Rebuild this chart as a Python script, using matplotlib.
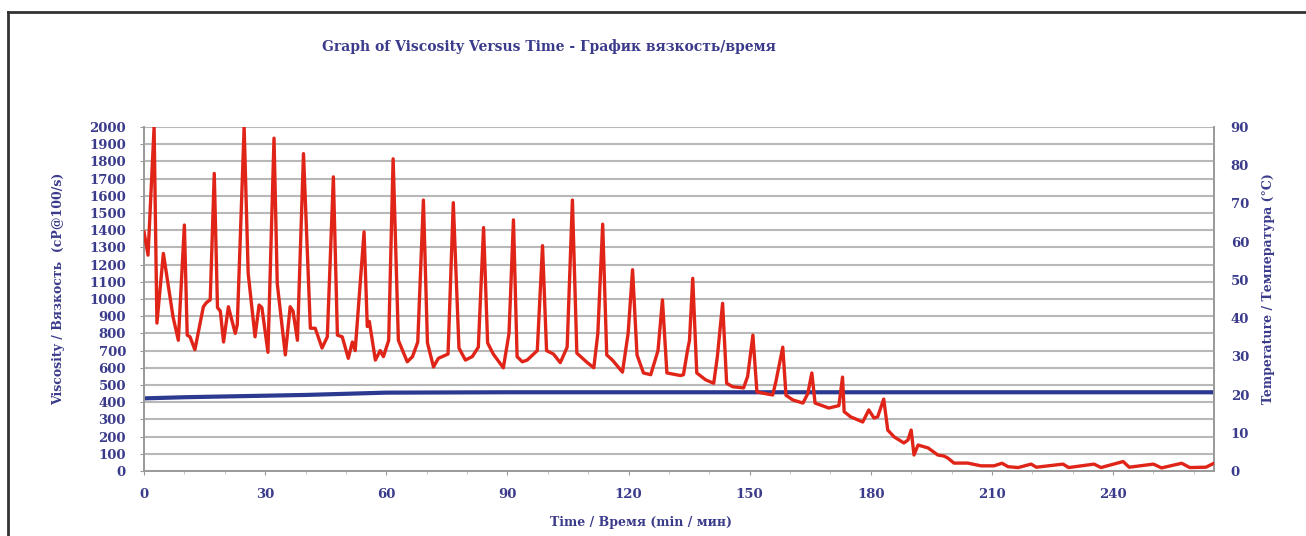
import matplotlib
matplotlib.use("Agg")
import matplotlib.pyplot as plt
from matplotlib.lines import Line2D

# viscosity trace (time in min, viscosity in cP@100/s)
time_min = [0, 1, 2.5, 3.2, 4.8, 7.2, 8.5, 10, 10.7, 11.4, 12.6, 14.7, 15.5, 16.4,
            17.4, 18.2, 18.9, 19.7, 20.9, 22.6, 23.1, 24.8, 25.8, 27.5, 28.5, 29.2,
            30.7, 32.2, 33, 35, 36.2, 36.9, 38, 39.5, 41.2, 42.4, 44.1, 45.4, 46.9,
            47.9, 49.1, 50.6, 51.6, 52.3, 54.5, 55.3, 55.8, 57.3, 58.5, 59.3, 60.6,
            61.7, 63.0, 65.2, 66.5, 67.8, 69.2, 70.2, 71.7, 72.9, 75.3, 76.6, 78.0,
            79.6, 81.3, 82.8, 84.1, 85.1, 86.5, 89, 90.4, 91.5, 92.4, 93.7, 94.9, 97.4,
            98.7, 99.7, 101.4, 103.1, 104.8, 106.1, 107.2, 109.8, 111.4, 112.4, 113.6,
            114.6, 116, 118.5, 119.9, 121, 122.1, 123.7, 125.5, 127.3, 128.4, 129.5, 132.9, 133.6,
            134.6, 135.1, 135.9, 136.9, 139.1, 141.1, 142, 143.3, 144.3, 145.8,
            148.5, 149.5, 150.8, 151.8, 153.2, 155.7, 156.5, 158.2, 159, 160.7, 163.2,
            164.4, 165.4, 166.2, 169.6, 172.1, 173, 173.4, 175, 178, 179.5, 180.8,
            181.7, 183.2, 184.2, 185.8, 188.2, 189.2, 190, 190.7, 191.7, 194.2,
            196.6, 198.1, 199.1, 200.6, 204, 207.3, 210.5, 212.5, 214, 216.5, 219.7,
            221, 227.6, 229, 235.3, 237, 242.5, 244, 250, 252, 257, 259, 263, 265]
viscosity = [1390, 1255, 2000, 860, 1265, 895, 760, 1430, 790, 780, 705, 955, 980, 995,
             1730, 950, 930, 750, 955, 800, 850, 2000, 1150, 780, 965, 950,
             690, 1935, 1090, 675, 955, 930, 760, 1845, 830, 830, 715, 780, 1710,
             790, 780, 655, 750, 700, 1390, 840, 870, 645, 700, 665, 760,
             1815, 760, 635, 665, 750, 1575, 745, 605, 655, 680, 1560, 715,
             645, 665, 720, 1415, 745, 680, 600, 800, 1460, 665, 635, 645, 700,
             1310, 700, 680, 630, 720, 1575, 685, 630, 600, 800, 1435,
             675, 645, 575, 800, 1170, 675, 570, 560, 700, 995, 570, 555, 560,
             700, 760, 1120, 570, 530, 510, 665, 975, 510, 490,
             483, 550, 790, 460, 453, 442, 520, 720, 440, 413, 395,
             450, 570, 395, 366, 380, 546, 345, 315, 285, 355, 308,
             315, 418, 238, 198, 163, 180, 238, 93, 151, 134,
             93, 87, 75, 46, 46, 30, 30, 45, 25, 20, 40,
             22, 40, 20, 40, 20, 55, 22, 40, 18, 45, 20, 22, 45]

# temperature trace (°C)
temp_time = [0, 10, 20, 30, 40, 50, 60, 90, 150, 265]
temperature = [19.0, 19.3, 19.5, 19.7, 19.9, 20.2, 20.5, 20.6, 20.6, 20.6]

x_ticks = [0, 30, 60, 90, 120, 150, 180, 210, 240]

txt = "#3b3b8c"
font = {"family": "DejaVu Serif", "weight": "bold", "color": txt}

fig = plt.figure(figsize=(13.06, 5.36), dpi=100)
ax = fig.add_axes([144 / 1306, 1 - 471 / 536, 1070 / 1306, 344 / 536])
ax2 = ax.twinx()

ax.plot(time_min, viscosity, color="#e02418", lw=2.4, zorder=3)
ax2.plot(temp_time, temperature, color="#2b3990", lw=3, zorder=2)

ax.set_xlim(0, 265)
ax.set_ylim(0, 2000)
ax2.set_ylim(0, 90)
ax.set_yticks(range(0, 2001, 100))
ax2.set_yticks(range(0, 91, 10))
ax.set_xticks(x_ticks)
ax.set_xticks(range(0, 265, 10), minor=True)

ax.grid(axis="y", color="#b8b8b8", lw=1.5)
ax.set_axisbelow(True)
ax.set_zorder(ax2.get_zorder() + 1)
ax.patch.set_visible(False)

for a in (ax, ax2):
    for s in a.spines.values():
        s.set_color("#999999")
        s.set_linewidth(1.2)
    a.spines["top"].set_visible(False)

ax.tick_params(axis="y", length=3, color="#999999", pad=10)
ax.tick_params(axis="x", length=3, color="#999999", pad=9)
ax.tick_params(axis="x", which="minor", length=2, color="#bbbbbb")
ax2.tick_params(axis="y", length=0, pad=12)

for lab in ax.get_xticklabels() + ax.get_yticklabels() + ax2.get_yticklabels():
    lab.set_fontfamily("DejaVu Serif")
    lab.set_fontweight("bold")
    lab.set_fontsize(9.5)
    lab.set_color(txt)

ax.set_ylabel("Viscosity / Вязкость  (cP@100/s)", fontsize=9, **font)
ax.yaxis.set_label_coords(-0.074, 0.53)
ax2.set_ylabel("Temperature / Температура (°C)", fontsize=9, **font)
ax2.yaxis.set_label_coords(1.045, 0.53)
ax.set_xlabel("Time / Время (min / мин)", fontsize=9, **font)
ax.xaxis.set_label_coords(0.4645, -0.131)

fig.text(549 / 1306, 1 - 47 / 536, "Graph of Viscosity Versus Time - График вязкость/время",
         ha="center", va="center", fontsize=10, **font)

# page frame lines
fig.add_artist(Line2D([8 / 1306, 1], [1 - 12 / 536, 1 - 12 / 536], color="#333333", lw=2,
                      transform=fig.transFigure))
fig.add_artist(Line2D([8 / 1306, 8 / 1306], [0, 1 - 12 / 536], color="#333333", lw=2,
                      transform=fig.transFigure))

plt.savefig("out.png", dpi=100)
